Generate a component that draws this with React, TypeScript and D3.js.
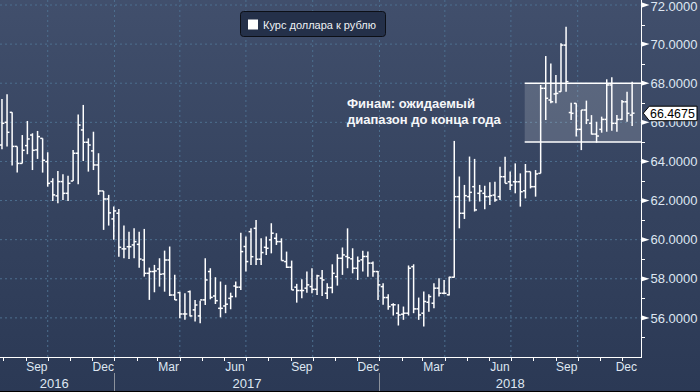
import React from "react";
import * as d3 from "d3";

const W = 700;
const H = 392;

// Weekly OHLC bars of USD/RUB, first bar week of 2016-07-30
const firstBarDate = new Date(2016, 6, 30);
const opens = [
  64.84, 66.0, 66.51, 64.77, 63.9, 64.81, 65.35, 64.59, 65.18, 63.99,
  62.97, 62.24, 62.97, 62.37, 63.0, 64.42, 65.61, 64.98, 64.54, 63.82,
  62.49, 62.08, 61.06, 61.35, 59.53, 59.64, 59.73, 59.76, 58.96, 58.28,
  58.37, 58.5, 58.25, 58.96, 57.17, 57.29, 56.2, 57.34, 56.41, 56.1,
  56.92, 58.37, 57.12, 56.49, 56.61, 57.0, 57.63, 57.57, 59.65, 60.41,
  60.58, 59.0, 59.61, 59.99, 60.07, 59.9, 58.88, 58.59, 57.57, 57.4,
  57.52, 57.6, 57.46, 58.03, 57.26, 57.55, 58.11, 59.05, 59.14, 59.02,
  58.54, 58.97, 59.14, 58.8, 58.37, 57.6, 57.04, 56.67, 56.24, 56.19,
  56.24, 58.62, 56.46, 56.24, 56.8, 56.75, 57.52, 57.26, 57.18, 58.08,
  62.2, 61.35, 62.2, 62.71, 62.37, 62.37, 62.2, 62.28, 62.2, 63.22,
  62.96, 62.96, 62.96, 62.5, 63.48, 62.71, 63.39, 67.74, 67.14, 67.45,
  67.57, 69.95, 66.5, 66.97, 65.64, 66.63, 65.95, 65.4, 65.64, 66.15,
  67.91, 65.95, 66.15, 67.05, 66.37,
];
const highs = [
  67.19, 67.43, 66.51, 64.77, 65.35, 66.07, 65.44, 65.56, 65.18, 64.47,
  63.14, 63.51, 63.34, 63.27, 64.59, 66.4, 66.89, 65.18, 65.52, 64.42,
  62.49, 62.29, 61.69, 61.57, 60.72, 60.41, 60.58, 60.41, 60.55, 58.57,
  58.71, 59.05, 59.44, 59.65, 58.2, 57.34, 57.26, 57.4, 56.92, 56.88,
  59.05, 58.54, 58.08, 57.86, 57.69, 57.29, 57.86, 60.36, 60.16, 60.58,
  61.01, 60.07, 60.16, 60.84, 60.33, 60.07, 59.39, 58.93, 57.74, 57.98,
  58.37, 58.54, 58.2, 58.45, 57.77, 58.74, 59.26, 59.6, 60.58, 59.56,
  59.14, 59.43, 59.39, 58.88, 58.4, 57.77, 57.21, 56.75, 56.7, 56.58,
  58.68, 58.74, 57.04, 57.35, 57.21, 57.77, 58.03, 57.94, 58.11, 65.05,
  63.23, 62.8, 64.25, 64.13, 62.8, 62.76, 62.93, 62.96, 63.73, 64.24,
  63.48, 63.9, 63.39, 63.87, 63.48, 63.56, 67.91, 69.39, 69.01, 68.42,
  70.04, 70.89, 67.0, 66.97, 66.63, 67.11, 66.37, 66.03, 66.29, 68.2,
  68.3, 66.37, 67.14, 67.57, 68.08,
];
const lows = [
  64.62, 64.76, 63.79, 63.43, 63.9, 64.37, 63.56, 64.13, 63.43, 62.71,
  61.98, 61.86, 62.03, 61.98, 63.0, 62.83, 64.02, 63.48, 63.56, 62.29,
  60.5, 60.72, 59.99, 59.13, 59.05, 59.01, 59.05, 58.57, 58.11, 56.92,
  57.31, 57.6, 57.34, 57.12, 56.92, 55.98, 55.9, 56.07, 55.81, 55.73,
  56.66, 56.95, 56.71, 56.03, 56.24, 56.44, 57.05, 57.43, 58.37, 58.71,
  58.71, 58.71, 59.22, 59.3, 59.73, 58.93, 58.55, 57.43, 56.78, 57.0,
  57.29, 57.26, 57.17, 57.12, 56.97, 57.26, 57.65, 58.2, 58.54, 58.28,
  57.94, 58.37, 58.11, 58.11, 56.92, 56.67, 56.41, 56.12, 55.61, 55.9,
  56.12, 56.24, 55.9, 55.56, 56.32, 56.49, 57.09, 57.21, 57.14, 58.06,
  60.58, 61.06, 61.95, 61.44, 61.95, 61.55, 61.77, 61.94, 62.03, 62.88,
  62.54, 62.37, 61.69, 62.11, 62.62, 62.2, 63.39, 66.12, 66.97, 66.97,
  67.57, 67.57, 66.12, 65.27, 64.58, 65.91, 65.38, 64.96, 65.47, 65.52,
  65.57, 65.52, 66.12, 66.03, 65.81,
];
const closes = [
  65.95, 65.49, 64.77, 63.9, 64.57, 65.15, 64.57, 65.27, 64.06, 62.88,
  62.29, 62.97, 62.37, 62.88, 64.42, 65.86, 64.98, 64.84, 63.82, 62.49,
  62.08, 61.37, 61.47, 59.61, 59.53, 59.64, 59.9, 59.01, 58.28, 58.37,
  58.4, 58.23, 58.96, 57.17, 56.92, 56.2, 56.2, 56.1, 56.66, 56.92,
  57.94, 57.05, 56.88, 56.49, 56.7, 57.09, 57.57, 59.39, 58.88, 59.13,
  59.0, 59.34, 59.56, 60.33, 59.9, 58.93, 58.59, 57.43, 57.4, 57.4,
  57.69, 57.46, 58.15, 57.94, 57.55, 58.28, 59.05, 59.22, 59.08, 58.54,
  58.91, 59.14, 58.8, 58.37, 57.69, 57.04, 56.58, 56.67, 56.15, 56.24,
  58.54, 56.46, 56.15, 56.84, 57.09, 57.52, 57.26, 57.26, 58.08, 62.2,
  61.35, 62.25, 62.42, 61.52, 62.49, 62.2, 62.25, 62.03, 63.22, 62.88,
  62.79, 62.96, 62.45, 63.48, 62.71, 63.36, 67.74, 67.23, 67.05, 67.48,
  69.95, 68.08, 66.46, 65.64, 66.63, 66.12, 65.4, 65.3, 66.15, 67.91,
  65.95, 66.15, 67.05, 66.46, 66.4675,
];

const yMajorTicks = [56, 58, 60, 62, 64, 66, 68, 70, 72];
const yMinorTicks = [55, 57, 59, 61, 63, 65, 67, 69, 71];
const legendLabel = "Курс доллара к рублю";
const annotationLines = ["Финам: ожидаемый", "диапазон до конца года"];
const rangeStart = new Date(2018, 6, 20);
const rangeLow = 65;
const rangeHigh = 68;
const monthNames = ["Jan", "Feb", "Mar", "Apr", "May", "Jun", "Jul", "Aug", "Sep", "Oct", "Nov", "Dec"];
const labeledMonths = [2, 5, 8, 11];

const FONT = "'Liberation Sans', Arial, sans-serif";
const AXIS_X = 641;
const AXIS_Y = 357;
const GRID = "#4d6f8f";
const TXT = "#dfe7f2";

export default function App() {
  const x = d3
    .scaleTime()
    .domain([new Date(2016, 6, 27, 7), new Date(2018, 11, 27, 5)])
    .range([0, AXIS_X]);
  const y = d3.scaleLinear().domain([54, 72]).range([AXIS_Y, 5]);

  const dates = closes.map((_, i) => d3.timeWeek.offset(firstBarDate, i));
  const [d0, d1] = x.domain();
  const months = d3.timeMonth.range(d3.timeMonth.ceil(d0), d1);
  const quarters = months.filter((m) => m.getMonth() % 3 === 0);
  const years = d3.timeYear.range(d3.timeYear.ceil(d0), d1);
  const yearSpans = [d3.timeYear.floor(d0), ...years].map((ys) => {
    const a = Math.max(0, x(ys));
    const b = Math.min(AXIS_X, x(d3.timeYear.offset(ys, 1)));
    return { label: String(ys.getFullYear()), cx: (a + b) / 2 - (a === 0 ? 3 : 0) };
  });

  const last = closes[closes.length - 1];
  const ly = y(last);
  const tick = 2.4;

  return (
    <svg
      width={W}
      height={H}
      viewBox={`0 0 ${W} ${H}`}
      style={{ position: "absolute", left: 0, top: 0, display: "block" }}
      fontFamily={FONT}
    >
      <defs>
        <linearGradient id="bg" x1="0" y1="0" x2="0" y2="1">
          <stop offset="0" stopColor="#414f6c" />
          <stop offset="0.5" stopColor="#35435f" />
          <stop offset="1" stopColor="#2b3955" />
        </linearGradient>
      </defs>
      <rect x={0} y={0} width={W} height={H} fill="url(#bg)" />
      <rect x={0} y={H - 1} width={W} height={1} fill="#000" />

      {/* grid */}
      {yMajorTicks.map((v) => (
        <line key={"hg" + v} x1={0} x2={AXIS_X} y1={y(v)} y2={y(v)} stroke={GRID} strokeDasharray="2,3" />
      ))}
      {quarters.map((q) => (
        <line key={"vg" + +q} x1={x(q)} x2={x(q)} y1={0} y2={AXIS_Y} stroke={GRID} strokeDasharray="2,3" />
      ))}

      {/* expected range box */}
      <rect
        x={x(rangeStart)}
        y={y(rangeHigh)}
        width={AXIS_X - x(rangeStart)}
        height={y(rangeLow) - y(rangeHigh)}
        fill="#ffffff"
        fillOpacity={0.16}
      />
      <line x1={x(rangeStart)} x2={AXIS_X} y1={y(rangeHigh)} y2={y(rangeHigh)} stroke="#fff" strokeWidth={1.5} />
      <line x1={x(rangeStart)} x2={AXIS_X} y1={y(rangeLow)} y2={y(rangeLow)} stroke="#fff" strokeWidth={1.5} />

      {/* OHLC bars */}
      <g stroke="#ffffff" strokeWidth={1.5}>
        {dates.map((d, i) => {
          const cx = x(d);
          return (
            <g key={"b" + i}>
              <line x1={cx} x2={cx} y1={y(highs[i])} y2={y(lows[i])} />
              <line x1={cx - tick} x2={cx} y1={y(opens[i])} y2={y(opens[i])} />
              <line x1={cx} x2={cx + tick} y1={y(closes[i])} y2={y(closes[i])} />
            </g>
          );
        })}
      </g>

      {/* annotation */}
      <g fill="#f6f7f9" fontWeight="bold" fontSize={13}>
        {annotationLines.map((t, i) => (
          <text key={"an" + i} x={347} y={107.7 + i * 16.6}>
            {t}
          </text>
        ))}
      </g>

      {/* legend */}
      <rect x={240.5} y={11.5} width={145} height={25} rx={3} fill="#243049" stroke="#0c0f16" />
      <rect x={248} y={19.5} width={10} height={10} fill="#ffffff" />
      <text x={263} y={29} fontSize={11} fill="#eef0f4">
        {legendLabel}
      </text>

      {/* right axis */}
      <line x1={AXIS_X + 0.5} x2={AXIS_X + 0.5} y1={0} y2={AXIS_Y} stroke="#fff" />
      {yMinorTicks.map((v) => (
        <line key={"mt" + v} x1={AXIS_X} x2={AXIS_X + 4} y1={Math.round(y(v)) + 0.5} y2={Math.round(y(v)) + 0.5} stroke="#fff" />
      ))}
      {yMajorTicks.map((v) => (
        <g key={"yt" + v}>
          <polygon points={`${AXIS_X + 1},${y(v) - 2.4} ${AXIS_X + 8.5},${y(v)} ${AXIS_X + 1},${y(v) + 2.4}`} fill="#fff" />
          <text x={650.5} y={Math.max(y(v) + 4.7, 11)} fontSize={13} fill={TXT}>
            {v.toFixed(4)}
          </text>
        </g>
      ))}

      {/* last price label */}
      <polygon
        points={`${AXIS_X + 2.3},${ly} ${AXIS_X + 8.3},${ly - 7} 697,${ly - 7} 697,${ly + 7.5} ${AXIS_X + 8.3},${ly + 7.5}`}
        fill="#ffffff"
        stroke="#000"
      />
      <text x={650} y={ly + 4.8} fontSize={12.4} fill="#000">
        {last.toFixed(4)}
      </text>

      {/* bottom axis */}
      <line x1={0} x2={AXIS_X + 1} y1={AXIS_Y + 0.5} y2={AXIS_Y + 0.5} stroke="#fff" />
      {months.map((m) => (
        <line key={"mk" + +m} x1={Math.round(x(m)) + 0.5} x2={Math.round(x(m)) + 0.5} y1={AXIS_Y} y2={AXIS_Y + 4} stroke="#fff" />
      ))}
      {months
        .filter((m) => labeledMonths.includes(m.getMonth()))
        .map((m) => {
          const next = d3.timeMonth.offset(m, 1);
          const mid = (x(m) + x(next)) / 2;
          const cx = Math.min(mid, AXIS_X - 4 - 10.7);
          return (
            <text key={"ml" + +m} x={cx} y={371} fontSize={12} textAnchor="middle" fill={TXT}>
              {monthNames[m.getMonth()]}
            </text>
          );
        })}
      {years.map((ys) => (
        <line key={"ys" + +ys} x1={Math.round(x(ys)) + 0.5} x2={Math.round(x(ys)) + 0.5} y1={373} y2={H - 1} stroke="#8c929c" />
      ))}
      {yearSpans.map((s) => (
        <text key={"yl" + s.label} x={s.cx} y={387.5} fontSize={13} textAnchor="middle" fill={TXT}>
          {s.label}
        </text>
      ))}
    </svg>
  );
}
